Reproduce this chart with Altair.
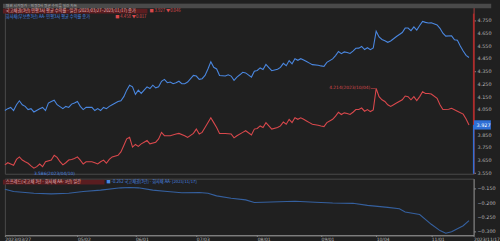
import altair as alt
import pandas as pd

# ---- data (x = trading-day index from 2023/03/27) ----
red_day = [0,1,2,3,4,5,6,7,8,9,10,11,12,13,14,16,17,18,19,20,21,22,23,24,25,26,27,28,30,31,32,33,34,35,36,37,39,40,41,42,43,44,45,46,47,48,49,50,52,53,54,55,57,59,60,62,63,65,66,67,68,69,71,72,73,74,76,78,79,80,82,83,85,86,87,88,89,90,91,92,94,95,96,97,98,99,100,101,102,103,104,105,106,108,109,110,111,113,114,115,116,117,118,119,120,121,122,123,124,125,126,127,128,129,130,131,132,133,134,135,137,138,139,140,141,142,143,144,145,146,147,149,150,151,153,154,156,158,159,160]
red_val = [3.612,3.629,3.619,3.609,3.655,3.675,3.650,3.637,3.625,3.604,3.586,3.598,3.619,3.598,3.637,3.650,3.688,3.671,3.637,3.612,3.629,3.650,3.655,3.663,3.675,3.650,3.619,3.637,3.637,3.629,3.619,3.637,3.650,3.625,3.655,3.675,3.688,3.714,3.765,3.817,3.829,3.752,3.773,3.758,3.778,3.791,3.804,3.778,3.791,3.817,3.868,3.842,3.842,3.855,3.860,3.842,3.829,3.860,3.894,3.855,3.868,3.906,3.983,3.945,3.906,3.860,3.860,3.855,3.825,3.842,3.868,3.881,3.848,3.894,3.899,3.919,3.906,3.945,3.919,3.894,3.906,3.919,3.950,3.932,3.971,3.945,3.983,3.971,3.983,3.971,3.958,3.945,3.932,3.925,3.919,3.914,3.945,3.971,3.996,4.027,4.009,4.022,4.017,4.009,4.027,4.048,4.048,4.060,4.035,4.048,4.032,4.045,4.214,4.150,4.125,4.112,4.086,4.073,4.086,4.099,4.125,4.155,4.150,4.125,4.150,4.119,4.150,4.188,4.175,4.175,4.171,4.137,4.086,4.048,4.050,4.058,4.035,4.012,3.973,3.927]

blue_day = [0,1,2,3,4,5,6,7,8,9,10,12,13,14,15,16,17,18,20,21,22,23,24,25,26,27,28,30,31,32,33,34,35,36,37,39,40,41,42,43,44,45,46,47,48,49,50,51,52,53,54,55,56,57,58,59,60,61,62,63,65,66,67,68,69,70,71,72,73,74,76,77,78,79,80,81,82,83,85,86,87,88,89,90,91,92,94,95,96,97,98,99,100,101,102,103,104,105,106,108,109,110,111,113,114,115,116,117,118,119,120,121,122,123,124,125,126,127,128,129,130,131,132,133,134,135,137,138,139,140,141,142,143,144,145,146,147,149,150,151,152,154,155,156,157,158,159,160]
blue_val = [4.040,4.055,4.065,4.040,4.086,4.117,4.086,4.073,4.048,4.055,4.029,4.055,4.065,4.040,4.099,4.112,4.122,4.086,4.055,4.073,4.065,4.091,4.099,4.112,4.073,4.048,4.065,4.065,4.040,4.055,4.040,4.065,4.055,4.073,4.086,4.112,4.117,4.150,4.201,4.240,4.227,4.168,4.201,4.175,4.201,4.227,4.214,4.240,4.219,4.227,4.271,4.286,4.260,4.265,4.252,4.260,4.271,4.252,4.252,4.265,4.317,4.312,4.286,4.291,4.317,4.368,4.425,4.381,4.368,4.317,4.312,4.322,4.312,4.278,4.304,4.322,4.342,4.337,4.304,4.350,4.356,4.376,4.364,4.403,4.378,4.354,4.366,4.380,4.412,4.394,4.434,4.408,4.448,4.436,4.449,4.438,4.426,4.414,4.402,4.397,4.392,4.388,4.420,4.447,4.473,4.505,4.488,4.502,4.497,4.490,4.509,4.531,4.532,4.545,4.521,4.535,4.520,4.534,4.665,4.620,4.600,4.590,4.578,4.588,4.606,4.624,4.655,4.690,4.690,4.670,4.700,4.674,4.710,4.742,4.735,4.730,4.732,4.715,4.688,4.650,4.627,4.629,4.598,4.594,4.548,4.509,4.475,4.458]

spr_day = [0,3,10,16,22,27,33,40,43,46,51,56,61,67,70,73,78,83,86,89,100,107,113,120,125,132,136,138,143,147,150,152,154,158,160]
spr_val = [-0.153,-0.161,-0.167,-0.169,-0.167,-0.161,-0.156,-0.148,-0.147,-0.148,-0.156,-0.161,-0.165,-0.164,-0.167,-0.176,-0.184,-0.190,-0.199,-0.198,-0.195,-0.198,-0.201,-0.202,-0.209,-0.216,-0.221,-0.232,-0.241,-0.275,-0.297,-0.306,-0.301,-0.280,-0.262]

tick_days = [0, 25, 45, 66, 87, 109, 128, 147, 161.6]
tick_labels = ["2023/03/27", "05/02", "06/01", "07/03", "08/01", "09/01", "10/04", "11/01", "2023/11/17"]
top_ticks = [3.55, 3.65, 3.75, 3.85, 3.95, 4.05, 4.15, 4.25, 4.35, 4.45, 4.55, 4.65, 4.75]
bot_ticks = [-0.15, -0.20, -0.25, -0.30]

hdr_text = "채권 시가평가 · 민평3사 평균 수익률 일간 차트"
row1_text = "국고채권(3년) 민평3사 평균 수익률 - 일간 (2023/03/27~2023/11/17) 종가"
row1_tail = "■ 3.927 ▼0.046"
row2_text = "회사채(무보증3년) AA- 민평3사 평균 수익률 종가"
row2_tail = "■ 4.458 ▼0.017"
peak_text = "4.214(2023/10/04)"
min_text = "3.586(2023/04/10)"
spr_text = "스프레드(국고채 3년 - 회사채 AA- 3년) 일간"
spr_tail = "■ -0.262 국고채권(3년) - 회사채 AA- (2023/11/17)"

# ---- colours ----
BG = "#202020"
RED = "#d9484c"
BLUE = "#4a87e0"
DBLUE = "#35609f"
LBL = "#b8b8b8"
KR = "Noto Sans CJK KR"

red = pd.DataFrame({"day": red_day, "v": red_val})
blue = pd.DataFrame({"day": blue_day, "v": blue_val})
spr = pd.DataFrame({"day": spr_day, "v": spr_val})
one = pd.DataFrame({"k": [0]})
red_last = red.tail(1)
last_v = float(red_last["v"].iloc[0])
top_tk = pd.DataFrame({"v": top_ticks})
top_tk_lbl = pd.DataFrame({"v": [t for t in top_ticks if abs(t - last_v) > 0.04]})
bot_tk = pd.DataFrame({"v": bot_ticks})

label_expr = "".join(
    f"abs(datum.value - {d}) < 0.5 ? '{l}' : " for d, l in zip(tick_days, tick_labels)
) + "''"

xs = alt.Scale(domain=[0, 161.6], nice=False, zero=False)
ys_top = alt.Scale(domain=[3.542, 4.881], nice=False, zero=False)
ys_bot = alt.Scale(domain=[-0.3133, -0.116], nice=False, zero=False)

W = 480
H_TOP = 174
H_BOT = 58

top_y_axis = alt.Axis(orient="right", values=top_ticks, labels=False, title=None,
                      grid=False, tickColor="#888", tickSize=2, domainColor="#9a2a2a")

X_top = alt.X("day:Q", scale=xs, axis=None)

red_line = alt.Chart(red).mark_line(color=RED, strokeWidth=1.1).encode(
    x=X_top, y=alt.Y("v:Q", scale=ys_top, axis=top_y_axis))
blue_line = alt.Chart(blue).mark_line(color=BLUE, strokeWidth=1.1).encode(
    x=X_top, y=alt.Y("v:Q", scale=ys_top))

top_labels = alt.Chart(top_tk_lbl).mark_text(align="left", baseline="middle", fontSize=5,
                                             color=LBL, font="DejaVu Sans").encode(
    x=alt.value(W + 4), y=alt.Y("v:Q", scale=ys_top), text=alt.Text("v:Q", format=".3f"))

peak = red.loc[[red["v"].idxmax()]]
low = red.loc[[red["v"].idxmin()]]

peak_lbl = alt.Chart(peak).mark_text(align="right", baseline="middle", dx=-6, fontSize=4.5,
                                     color=RED, font="DejaVu Sans").encode(
    x=X_top, y=alt.Y("v:Q", scale=ys_top), text=alt.value(peak_text))
peak_tick = alt.Chart(peak).mark_tick(orient="horizontal", size=5, thickness=0.8, color=RED, xOffset=-3).encode(
    x=X_top, y=alt.Y("v:Q", scale=ys_top))
low_lbl = alt.Chart(low).mark_text(align="left", baseline="top", dy=3, fontSize=4.5,
                                   color=BLUE, font="DejaVu Sans").encode(
    x=X_top, y=alt.Y("v:Q", scale=ys_top), text=alt.value(min_text))

rule_red = alt.Chart(red_last).mark_rule(color="#b02a2a", strokeWidth=1.5).encode(
    x=alt.value(W), y=alt.Y("v:Q", scale=ys_top), y2=alt.value(10))
rule_blue = alt.Chart(red_last).mark_rule(color="#2f6fd6", strokeWidth=1.5).encode(
    x=alt.value(W), y=alt.Y("v:Q", scale=ys_top), y2=alt.value(H_TOP))
last_box = alt.Chart(red_last).mark_point(
    shape="M-1,-0.55L1,-0.55L1,0.55L-1,0.55Z", filled=True, opacity=1,
    color="#2f6fd6", size=300).encode(
    x=alt.value(W + 9), y=alt.Y("v:Q", scale=ys_top))
last_txt = alt.Chart(red_last).mark_text(align="left", baseline="middle", fontSize=5,
                                         color="white", font="DejaVu Sans").encode(
    x=alt.value(W + 3), y=alt.Y("v:Q", scale=ys_top), text=alt.Text("v:Q", format=".3f"))

hdr_rect = alt.Chart(one).mark_rect(color="#4a4a4a").encode(
    x=alt.value(-2), x2=alt.value(498), y=alt.value(0), y2=alt.value(4.5))
hdr = alt.Chart(one).mark_text(align="left", baseline="middle", fontSize=3.8,
                               color="#b0b0b0", font=KR).encode(
    x=alt.value(1), y=alt.value(2.3), text=alt.value(hdr_text))
row1_rect = alt.Chart(one).mark_rect(color="#5a1d20").encode(
    x=alt.value(-2), x2=alt.value(146), y=alt.value(5), y2=alt.value(10))
row1 = alt.Chart(one).mark_text(align="left", baseline="middle", fontSize=4.3,
                                color="#e8b4b4", font=KR).encode(
    x=alt.value(1), y=alt.value(7.6), text=alt.value(row1_text))
row1b = alt.Chart(one).mark_text(align="left", baseline="middle", fontSize=4.3,
                                 color=RED, font=KR).encode(
    x=alt.value(148), y=alt.value(7.6), text=alt.value(row1_tail))
row2 = alt.Chart(one).mark_text(align="left", baseline="middle", fontSize=4.3,
                                color=BLUE, font=KR).encode(
    x=alt.value(1), y=alt.value(13.3), text=alt.value(row2_text))
row2b = alt.Chart(one).mark_text(align="left", baseline="middle", fontSize=4.3,
                                 color=RED, font=KR).encode(
    x=alt.value(113), y=alt.value(13.3), text=alt.value(row2_tail))

top = alt.layer(hdr_rect, hdr, row1_rect, row1, row1b, row2, row2b,
                blue_line, red_line, top_labels, peak_tick, peak_lbl, low_lbl,
                rule_red, rule_blue, last_box, last_txt).properties(width=W, height=H_TOP)

bot_y_axis = alt.Axis(orient="right", values=bot_ticks, labels=False, title=None,
                      grid=False, tickColor="#888", tickSize=2, domainColor="#888")
bot_x_axis = alt.Axis(values=tick_days, labelExpr=label_expr, title=None, grid=False,
                      labelAlign="left", labelFontSize=4.6, labelColor=LBL,
                      labelPadding=0, tickSize=1, tickColor="#999", domainColor="#999",
                      labelFont="DejaVu Sans", labelOverlap=False, labelBound=False,
                      labelFlush=False)

spr_line = alt.Chart(spr).mark_line(color=DBLUE, strokeWidth=1.1).encode(
    x=alt.X("day:Q", scale=xs, axis=bot_x_axis),
    y=alt.Y("v:Q", scale=ys_bot, axis=bot_y_axis))
bot_labels = alt.Chart(bot_tk).mark_text(align="left", baseline="middle", fontSize=5,
                                         color=LBL, font="DejaVu Sans").encode(
    x=alt.value(W + 4), y=alt.Y("v:Q", scale=ys_bot), text=alt.Text("v:Q", format=".3f"))
spr_rect = alt.Chart(one).mark_rect(color="#5a1d20").encode(
    x=alt.value(-2), x2=alt.value(102), y=alt.value(1), y2=alt.value(6))
spr_lbl = alt.Chart(one).mark_text(align="left", baseline="middle", fontSize=4.3,
                                   color="#e8b4b4", font=KR).encode(
    x=alt.value(1), y=alt.value(3.6), text=alt.value(spr_text))
spr_lbl2 = alt.Chart(one).mark_text(align="left", baseline="middle", fontSize=4.3,
                                    color=BLUE, font=KR).encode(
    x=alt.value(104), y=alt.value(3.6), text=alt.value(spr_tail))

bottom = alt.layer(spr_line, bot_labels, spr_rect, spr_lbl, spr_lbl2).properties(width=W, height=H_BOT)

chart = alt.vconcat(top, bottom, spacing=1).configure(
    background=BG, padding={"left": 2, "top": 0, "right": 0, "bottom": 0}
).configure_view(stroke="#4a4a4a", strokeWidth=1)

chart.save("out.html", embed_options={"renderer": "svg", "actions": False})
